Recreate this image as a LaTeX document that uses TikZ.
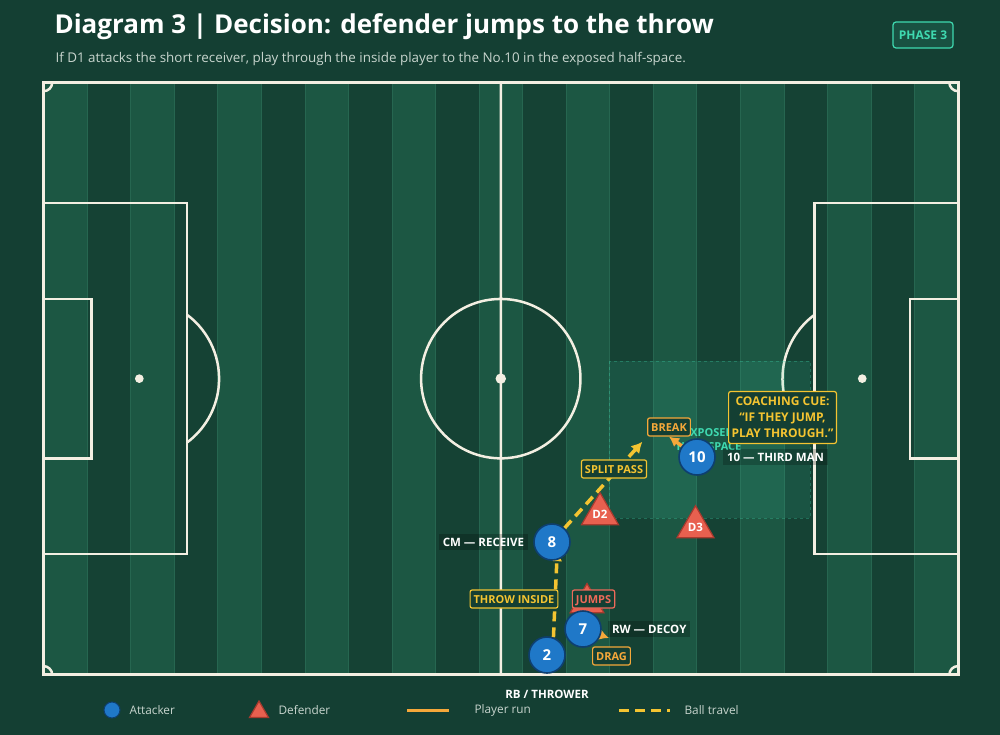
\documentclass[tikz,border=0pt]{standalone}
\usepackage{fontspec}
\setmainfont{Open Sans}
\usetikzlibrary{arrows.meta,positioning,shapes.geometric}
\definecolor{bgcol}{HTML}{143F33}
\definecolor{lightstripe}{HTML}{1C5743}
\definecolor{darkstripe}{HTML}{154234}
\definecolor{stripeline}{HTML}{266650}
\definecolor{chalk}{HTML}{F3EFE2}
\definecolor{attblue}{HTML}{1F78C8}
\definecolor{attedge}{HTML}{0E3F70}
\definecolor{defred}{HTML}{E8604F}
\definecolor{defedge}{HTML}{A83A2E}
\definecolor{ballyellow}{HTML}{F4C431}
\definecolor{runorange}{HTML}{F5A83A}
\definecolor{jumpred}{HTML}{EE6A5A}
\definecolor{hsteal}{HTML}{3FD9B0}
\definecolor{softtext}{HTML}{C8D5CE}
\pgfdeclarelayer{back}
\pgfdeclarelayer{lines}
\pgfsetlayers{back,lines,main}
\tikzset{
 att/.style={circle,fill=attblue,draw=attedge,line width=1.6pt,minimum size=36pt,inner sep=0pt,text=white,font=\bfseries\fontsize{15}{15}\selectfont},
 dfd/.style={regular polygon,regular polygon sides=3,fill=defred,draw=defedge,line width=1.2pt,minimum size=39pt,inner sep=0pt,text=white,font=\bfseries\fontsize{11.5}{11.5}\selectfont},
 tagbox/.style={draw=#1,text=#1,fill=bgcol,rounded corners=2pt,line width=1.2pt,font=\bfseries\fontsize{11}{11}\selectfont,inner xsep=3.5pt,inner ysep=5pt,text height=8pt,text depth=0pt},
 who/.style={fill=black,fill opacity=0.22,text opacity=1,text=white,font=\bfseries\fontsize{11.5}{11.5}\selectfont,inner sep=4pt},
 ball/.style={draw=ballyellow,line width=3.5pt,dash pattern=on 10pt off 6pt},
 run/.style={draw=runorange,line width=3.5pt},
 legtext/.style={text=softtext,font=\fontsize{11.8}{11.8}\selectfont,anchor=west}
}
\begin{document}
\begin{tikzpicture}[x=1pt,y=-1pt,semithick]
\useasboundingbox (0,0) rectangle (1000,735);
\begin{pgfonlayer}{back}
\fill[bgcol] (0,0) rectangle (1000,735);
\fill[darkstripe] (43.5,82.5) rectangle (958,674);
\foreach \i in {0,2,...,20}
 \filldraw[fill=lightstripe,draw=stripeline,line width=0.6pt] ({43.5+\i*43.55},82.5) rectangle ({43.5+(\i+1)*43.55},674);
\begin{scope}[shift={(43.5,82.5)},x=8.71pt,y=-8.71pt,chalk,line width=2.5pt]
\draw[line width=3pt] (0,0) rectangle (105,68);
\draw (52.5,0)--(52.5,68) (52.5,34) circle[radius=9.15];
\fill (52.5,34) circle[radius=0.6] (11,34) circle[radius=0.5] (94,34) circle[radius=0.5];
\draw (0,13.84) rectangle (16.5,54.16) (0,24.84) rectangle (5.5,43.16)
(105,13.84) rectangle (88.5,54.16) (105,24.84) rectangle (99.5,43.16);
\draw (16.5,26.68) arc[start angle=-53.13,end angle=53.13,radius=9.15]
(88.5,41.32) arc[start angle=126.87,end angle=233.13,radius=9.15];
\draw (1,0) arc[start angle=0,end angle=90,radius=1]
(0,67) arc[start angle=-90,end angle=0,radius=1]
(104,0) arc[start angle=180,end angle=90,radius=1]
(105,67) arc[start angle=270,end angle=180,radius=1];
\end{scope}
\filldraw[fill=hsteal,fill opacity=0.12,draw=hsteal,draw opacity=0.3,dashed,line width=1pt] (609,361) rectangle (810,518);
\end{pgfonlayer}
\node[anchor=base west,text=white,font=\bfseries\fontsize{26}{26}\selectfont] (title) at (51,34) {Diagram 3 | Decision: defender jumps to the throw};
\node[anchor=base west,text=softtext,font=\fontsize{13.4}{13.4}\selectfont] (sub) at (52,63) {If D1 attacks the short receiver, play through the inside player to the No.10 in the exposed half-space.};
\node[draw=hsteal,text=hsteal,fill=hsteal!12!bgcol,rounded corners=3pt,line width=1.2pt,font=\bfseries\fontsize{12}{12}\selectfont,minimum width=60pt,minimum height=26pt] (phase) at (923,35) {PHASE 3};
\node[att] (n10) at (697,457) {10};
\node[att] (n8) at (552,542) {8};
\node[dfd] (d1) at (587,603) {};
\node[att] (n7) at (583,629) {7};
\node[att] (n2) at (547,655) {2};
\node[dfd] (d2) at (600,514) {D2};
\node[dfd] (d3) at (695.5,527) {D3};
\coordinate (dr) at (609,638);
\node[who,right=7pt of n10] (l10) {10 — THIRD MAN};
\node[who,left=5pt of n8] (l8) {CM — RECEIVE};
\node[who,right=6pt of n7] (l7) {RW — DECOY};
\node[who,below=12pt of n2,fill opacity=0] (l2) {RB / THROWER};
\node[tagbox=runorange] (brk) at (669,427) {BREAK};
\node[tagbox=ballyellow] (spl) at (614,469) {SPLIT PASS};
\node[tagbox=ballyellow] (thr) at (514,599) {THROW INSIDE};
\node[tagbox=jumpred] (jmp) at (593.5,599) {JUMPS};
\node[tagbox=runorange] (drg) at (611.5,656) {DRAG};
\node[draw=ballyellow,text=ballyellow,fill=bgcol,rounded corners=2pt,line width=1.2pt,align=center,font=\bfseries\fontsize{12}{16}\selectfont,inner xsep=3pt,inner ysep=5.5pt] (cue) at (782.5,417.5) {COACHING CUE:\\“IF THEY JUMP,\\PLAY THROUGH.”};
\begin{pgfonlayer}{lines}
\node[text=hsteal,align=center,font=\bfseries\fontsize{11}{14}\selectfont] (hs) at (709,440) {EXPOSED\\HALF-SPACE};
\draw[ball,-{Latex[length=10pt,width=11pt]},shorten >=-9pt] (n2.70)--(n8.-75);
\draw[ball,-{Latex[length=11pt,width=12pt]},shorten >=7pt] (n8)--(brk.south west);
\draw[run,-{Latex[length=10pt,width=11pt]}] (n10)--(brk.south);
\draw[run,-{Latex[length=10pt,width=11pt]}] (n7)--(dr);
\end{pgfonlayer}
\node[circle,fill=attblue,draw=attedge,line width=1pt,minimum size=16pt,inner sep=0pt] (ka) at (112,710) {};
\node[legtext] at (126,710) {Attacker};
\node[dfd,minimum size=22pt] (kd) at (259,712) {};
\node[legtext] at (275,710) {Defender};
\draw[run,line width=3pt] (407,710)--(449,710);
\node[legtext] at (471,710) {Player run};
\draw[ball,line width=3pt] (619,710)--(670,710);
\node[legtext] at (681,710) {Ball travel};
\end{tikzpicture}
\end{document}
